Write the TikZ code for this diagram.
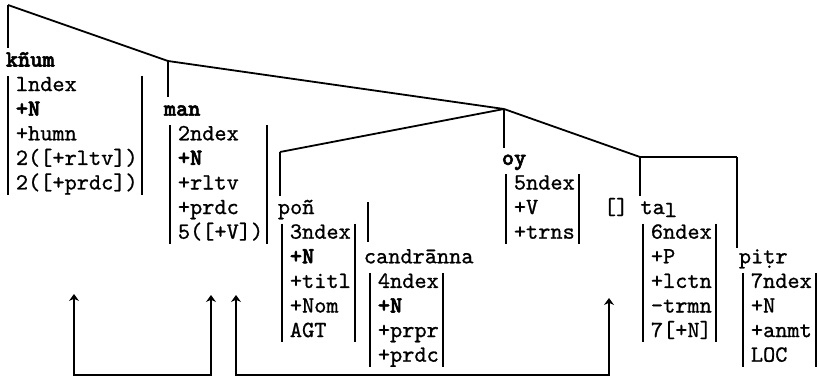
\documentclass[tikz,border=0pt]{standalone}
\usepackage{fontspec}
\setmonofont{lmmono10-regular.otf}[FakeBold=0.9, BoldFont=lmmonolt10-bold.otf, BoldFeatures={FakeBold=2.4}]
\usetikzlibrary{graphs}
\usetikzlibrary{arrows.meta}
\tikzset{
	word/.style={anchor=base west, inner sep=0pt, font=\fontsize{23.2}{24.6}\selectfont\ttfamily},
	dep/.style={{Stealth[length=7pt,width=10pt]}-{Stealth[length=7pt,width=10pt]}}
}
\newcommand{\avm}[1]{\begin{tabular}[t]{@{}l@{}}#1\end{tabular}}

\begin{document}
\begin{tikzpicture}[x=1pt, y=-1pt, line width=1.8pt]
	\useasboundingbox (0,0) rectangle (819,377);
	% words and their feature matrices, one row every 24.6pt
	\node[word] (knum) at (5,66.5) {\textbf{kñum}};
	\node[word] (knumF) at (15,91.1) {\avm{lndex\\\textbf{+N}\\+humn\\2([+rltv])\\2([+prdc])}};
	\node[word] (man) at (163,115.7) {\textbf{man}};
	\node[word] (manF) at (177,140.3) {\avm{2ndex\\\textbf{+N}\\+rltv\\+prdc\\5([+V])}};
	\node[word] (pon) at (277,214.1) {poñ};
	\node[word] (ponF) at (289,238.7) {\avm{3ndex\\\textbf{+N}\\+titl\\+Nom\\AGT}};
	\node[word] (cand) at (363,263.3) {candrānna};
	\node[word] (candF) at (377,287.9) {\avm{4ndex\\\textbf{+N}\\+prpr\\+prdc}};
	\node[word] (oy) at (501,164.9) {\textbf{oy}};
	\node[word] (oyF) at (513,189.5) {\avm{5ndex\\+V\\+trns}};
	\node[word] (ta) at (603,214.1) {[] ta\raisebox{-3pt}{l}};
	\node[word] (taF) at (650,238.7) {\avm{6ndex\\+P\\+lctn\\-trmn\\7[+N]}};
	\node[word] (pitr) at (738,263.3) {piṭr};
	\node[word] (pitrF) at (750,287.9) {\avm{7ndex\\+N\\+anmt\\LOC}};
	\foreach \f in {knumF,manF,ponF,candF,oyF,taF,pitrF}
		\draw ([xshift=-7pt,yshift=-3pt]\f.north west) -- ([xshift=-7pt,yshift=3pt]\f.south west)
			([xshift=3pt,yshift=-3pt]\f.north east) -- ([xshift=3pt,yshift=3pt]\f.south east);
	% tree
	\graph[simple, no placement, nodes={coordinate}]{
		kt[at={(8,5)}] -- mt[at={(168,61)}] -- ot[at={(504,109)}] -- tt[at={(640,157)}] -- rt[at={(737,157)}];
		pt[at={(280,152)}] -- ot;
		kt -- kb[at={(8,48)}];
		mt -- mb[at={(168,97)}];
		pt -- pb[at={(280,196)}];
		ot -- ob[at={(504,148)}];
		tt -- tb[at={(640,196)}];
		rt -- rb[at={(737,248)}];
		ct[at={(368,202)}] -- cb[at={(368,242)}];
	};
	% dependency arrows underneath
	\coordinate (a1) at (74,294);
	\coordinate (a2) at (211,295);
	\coordinate (a3) at (236,295);
	\coordinate (a4) at (609,298);
	\draw[dep] (a1) -- ++(0,81) -| (a2);
	\draw[dep] (a3) -- ++(0,80) -| (a4);
\end{tikzpicture}
\end{document}
